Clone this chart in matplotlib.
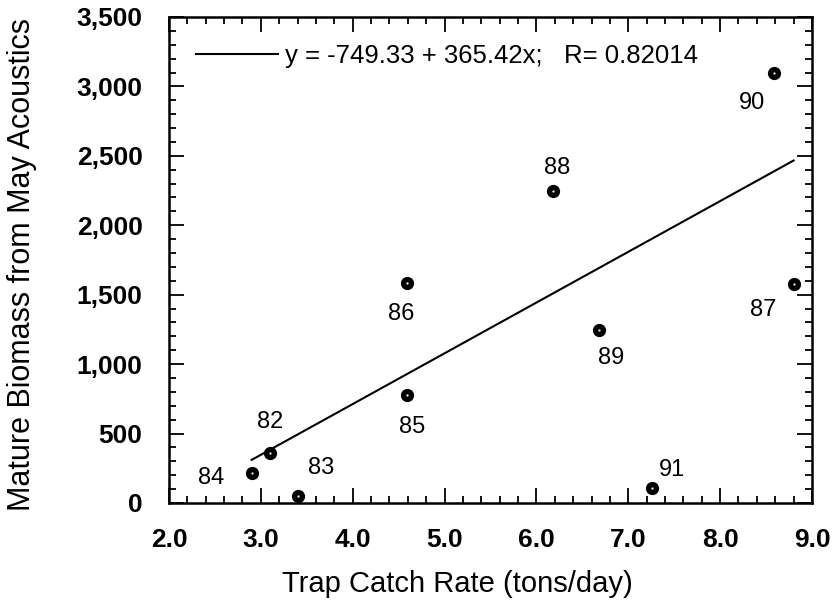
import numpy as np
import matplotlib
matplotlib.use("Agg")
import matplotlib.pyplot as plt
from matplotlib.ticker import MultipleLocator, FuncFormatter

plt.rcParams["font.family"] = ["Liberation Sans", "DejaVu Sans"]

# anos e dados
years = ["82", "83", "84", "85", "86", "87", "88", "89", "90", "91"]
catch_rate = [3.10, 3.41, 2.90, 4.59, 4.59, 8.80, 6.18, 6.68, 8.59, 7.26]
biomass = [362, 50, 218, 778, 1582, 1577, 2249, 1246, 3099, 106]

# ajuste publicado
intercept, slope, r_value = -749.33, 365.42, 0.82014

# deslocamento dos rótulos (pontos)
label_off = {"82": (0, 22), "83": (16, 20), "84": (-29, -4), "85": (4, -23),
             "86": (-4, -22), "87": (-22, -19), "88": (3, 16), "89": (9, -20),
             "90": (-16, -22), "91": (14, 13)}

fig = plt.figure(figsize=(8.34, 6.02), dpi=100)
ax = fig.add_axes([0.2026, 0.1645, 0.771, 0.8073])

xf = np.array([min(catch_rate), max(catch_rate)])
ax.plot(xf, intercept + slope * xf, color="black", lw=1.5,
        label=f"y = {intercept:.2f} + {slope:.2f}x;   R= {r_value:.5f}")
ax.plot(catch_rate, biomass, "o", color="black", ms=8.5, zorder=3)
ax.plot(catch_rate, biomass, ".", color="white", ms=1.2, zorder=4)

for yr, xv, yv in zip(years, catch_rate, biomass):
    ax.annotate(yr, (xv, yv), xytext=label_off[yr], textcoords="offset points",
                ha="center", va="center", fontsize=17)

ax.set_xlim(2.0, 9.0)
ax.set_ylim(0, 3500)
ax.xaxis.set_major_locator(MultipleLocator(1.0))
ax.xaxis.set_minor_locator(MultipleLocator(0.2))
ax.yaxis.set_major_locator(MultipleLocator(500))
ax.yaxis.set_minor_locator(MultipleLocator(100))
ax.xaxis.set_major_formatter(FuncFormatter(lambda v, p: f"{v:.1f}"))
ax.yaxis.set_major_formatter(FuncFormatter(lambda v, p: f"{v:,.0f}"))
ax.tick_params(which="both", direction="in", top=True, right=True, width=1.3)
ax.tick_params(which="major", length=10.5)
ax.tick_params(which="minor", length=5)
ax.tick_params(axis="x", which="major", pad=18)
ax.tick_params(axis="y", which="major", pad=19)
for lab in ax.get_xticklabels() + ax.get_yticklabels():
    lab.set_fontsize(19)
    lab.set_fontweight("bold")
for s in ax.spines.values():
    s.set_linewidth(1.8)

ax.set_xlabel("Trap Catch Rate (tons/day)", fontsize=21)
ax.set_ylabel("Mature Biomass from May Acoustics", fontsize=22)
ax.xaxis.set_label_coords(0.449, -0.138)
ax.yaxis.set_label_coords(-0.205, 0.49)

ax.legend(loc="upper left", bbox_to_anchor=(0.026, 0.965), frameon=False,
          fontsize=18.5, handlelength=3.2, handletextpad=0.25, borderaxespad=0)

fig.savefig("out.png", dpi=100)
